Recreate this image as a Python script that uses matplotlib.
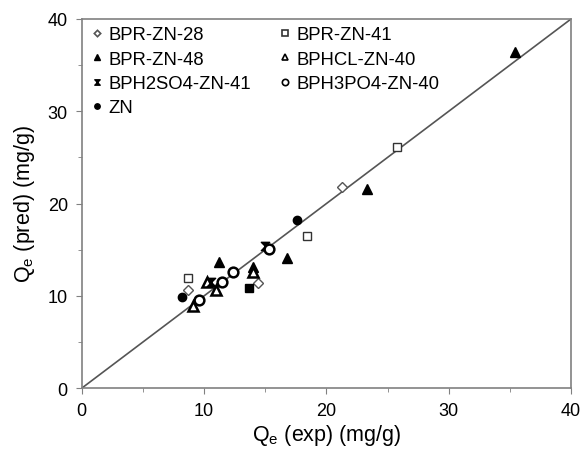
import matplotlib
matplotlib.use("Agg")
import matplotlib.pyplot as plt
from matplotlib.path import Path
from matplotlib.ticker import MultipleLocator

plt.rcParams['font.family'] = ['Liberation Sans', 'DejaVu Sans']
plt.rcParams['mathtext.default'] = 'regular'

# data: (Qe exp, Qe pred) in mg/g
bpr28_x = [8.7, 14.4, 21.3]
bpr28_y = [10.6, 11.4, 21.8]
bpr41_x = [8.7, 18.4, 25.8]
bpr41_y = [11.9, 16.5, 26.1]
bpr48_x = [11.2, 14.0, 16.8, 23.3, 35.4]
bpr48_y = [13.7, 13.1, 14.1, 21.6, 36.4]
bphcl_x = [9.1, 10.2, 11.0, 14.0]
bphcl_y = [8.9, 11.5, 10.6, 12.6]
bph2so4_x = [10.6, 15.0]
bph2so4_y = [11.5, 15.4]
bph3po4_x = [9.6, 11.5, 12.4, 15.3]
bph3po4_y = [9.6, 11.5, 12.6, 15.1]
zn_x = [8.2, 17.6]
zn_y = [9.9, 18.2]
extra_x = [13.7]
extra_y = [10.9]

labels = ['BPR-ZN-28', 'BPR-ZN-41', 'BPR-ZN-48', 'BPHCL-ZN-40',
          'BPH2SO4-ZN-41', 'BPH3PO4-ZN-40', 'ZN']

bowtie = Path([(-1, 1), (1, 1), (-1, -1), (1, -1), (-1, 1)],
              [Path.MOVETO, Path.LINETO, Path.LINETO, Path.LINETO, Path.CLOSEPOLY])

fig = plt.figure(figsize=(5.84, 4.52), dpi=100)
ax = fig.add_axes([0.140, 0.139, 0.838, 0.817])

ax.plot([0, 40], [0, 40], color='#555555', lw=1.2, zorder=1)

h28, = ax.plot(bpr28_x, bpr28_y, 'D', ms=5, mfc='white', mec='#555555', mew=1.0, ls='none')
h41, = ax.plot(bpr41_x, bpr41_y, 's', ms=6, mfc='white', mec='#333333', mew=1.0, ls='none')
h48, = ax.plot(bpr48_x, bpr48_y, '^', ms=7, mfc='black', mec='black', ls='none')
hcl, = ax.plot(bphcl_x, bphcl_y, '^', ms=7, mfc='white', mec='black', mew=1.8, ls='none')
hso4, = ax.plot(bph2so4_x, bph2so4_y, marker=bowtie, ms=6, mfc='black', mec='black', ls='none')
hpo4, = ax.plot(bph3po4_x, bph3po4_y, 'o', ms=7, mfc='white', mec='black', mew=1.8, ls='none')
hzn, = ax.plot(zn_x, zn_y, 'o', ms=6, mfc='black', mec='black', ls='none')
ax.plot(extra_x, extra_y, 's', ms=6, mfc='black', mec='black', ls='none')

handles = [h28, h48, hso4, hzn, h41, hcl, hpo4]
hlabels = [labels[0], labels[2], labels[4], labels[6], labels[1], labels[3], labels[5]]
leg = ax.legend(handles, hlabels, ncol=2, loc='upper left', frameon=False, fontsize=13.3,
                handletextpad=0.15, columnspacing=1.4, labelspacing=0.4, markerscale=0.65,
                borderaxespad=0.1, handlelength=0.9, borderpad=0.3)
# thinner edges on the small legend markers
for lh in leg.legend_handles:
    if lh.get_markerfacecolor() == 'white':
        lh.set_markeredgewidth(1.2)

ax.set_xlim(0, 40)
ax.set_ylim(0, 40)
ax.xaxis.set_major_locator(MultipleLocator(10))
ax.yaxis.set_major_locator(MultipleLocator(10))
ax.xaxis.set_minor_locator(MultipleLocator(5))
ax.yaxis.set_minor_locator(MultipleLocator(5))
ax.tick_params(which='both', direction='out', color='#808080', labelsize=13, length=4, pad=6)
ax.tick_params(which='minor', length=3)
for s in ax.spines.values():
    s.set_color('#808080')
    s.set_linewidth(1.2)

ax.set_xlabel('Q$_e$ (exp) (mg/g)', fontsize=15.5, labelpad=2)
ax.set_ylabel('Q$_e$ (pred) (mg/g)', fontsize=15.5, labelpad=8)

fig.savefig('out.png', dpi=100)
